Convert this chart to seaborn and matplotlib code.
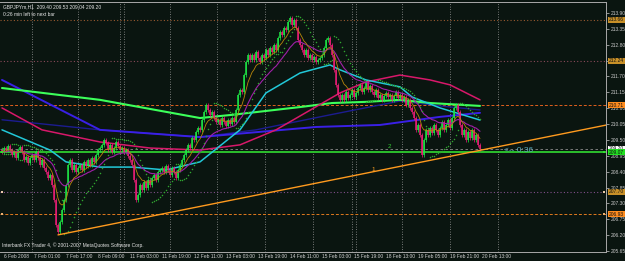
import numpy as np
import pandas as pd
import matplotlib
matplotlib.use("Agg")
import matplotlib.pyplot as plt
import matplotlib.transforms as mtransforms
import seaborn as sns

# ---------------- data ----------------
closes = [
    209.08, 209.22, 209.15, 209.29, 209.15, 208.98, 209.08, 208.87, 209.15, 209.26,
    209.08, 208.81, 208.91, 208.70, 208.87, 208.98, 208.81, 209.08, 208.87, 208.63,
    208.81, 208.53, 208.39, 208.18, 208.29, 207.94, 207.42, 206.55, 206.31, 206.66,
    207.07, 207.42, 207.94, 208.63, 208.81, 208.46, 208.63, 208.39, 208.53, 208.63,
    208.46, 208.74, 208.60, 208.81, 208.63, 208.87, 208.74, 208.98, 209.15, 209.22,
    209.33, 209.50, 209.39, 209.15, 209.33, 209.08, 209.22, 209.43, 209.29, 209.15,
    209.22, 209.08, 209.15, 208.94, 208.81, 208.63, 208.11, 207.42, 207.59, 207.94,
    207.77, 208.04, 207.83, 208.11, 207.94, 208.18, 208.29, 208.11, 208.39, 208.46,
    208.53, 208.39, 208.60, 208.46, 208.29, 208.53, 208.39, 208.18, 208.46, 208.63,
    208.81, 208.98, 209.15, 209.33, 209.22, 209.57, 209.50, 209.78, 209.91, 209.85,
    210.19, 210.47, 210.71, 210.54, 210.37, 210.47, 210.26, 210.12, 210.19, 210.02,
    210.26, 210.12, 209.98, 210.19, 210.05, 210.26, 210.12, 210.54, 211.06, 211.23,
    211.16, 211.75, 212.20, 212.44, 212.27, 212.44, 212.27, 212.55, 212.34, 212.20,
    212.44, 212.34, 212.62, 212.44, 212.69, 212.55, 212.79, 212.62, 213.03, 213.24,
    213.14, 213.38, 213.31, 213.59, 213.73, 213.48, 213.66, 213.38, 212.96, 212.79,
    212.62, 212.44, 212.62, 212.34, 212.44, 212.27, 212.37, 212.20, 212.27, 212.34,
    212.44, 212.69, 212.96, 213.03, 212.79, 212.44, 211.93, 211.41, 211.06, 210.89,
    211.06, 210.89, 211.16, 210.95, 211.06, 211.23, 210.99, 211.13, 211.30, 211.41,
    211.16, 211.30, 211.51, 211.23, 211.37, 211.16, 211.06, 211.23, 210.95, 211.06,
    210.89, 211.02, 211.13, 210.99, 211.06, 210.89, 211.02, 211.16, 210.95, 211.06,
    210.89, 210.99, 210.71, 210.89, 210.61, 210.47, 210.26, 209.85, 210.02, 209.67,
    208.98, 209.50, 209.85, 209.67, 209.91, 209.74, 210.02, 209.85, 209.67, 209.91,
    210.12, 209.85, 210.02, 210.19, 209.91, 210.26, 210.61, 210.71, 210.47, 210.02,
    209.67, 209.85, 209.50, 209.78, 209.57, 209.85, 209.50, 209.67, 209.33, 209.20,
]
first_open = 209.15
wick_pad = 0.07

# slow moving averages (bar index, price)
ma_cyan_bars = [0, 24, 32, 49, 65, 82, 99, 119, 132, 149, 164, 169, 182, 199, 205, 219, 239]
ma_cyan_vals = [209.85, 209.15, 208.74, 208.56, 208.56, 208.46, 208.74, 209.85, 211.13, 211.82,
                212.10, 211.93, 211.58, 211.34, 210.99, 210.61, 210.19]
ma_crimson_bars = [0, 20, 49, 74, 99, 119, 137, 169, 182, 199, 214, 224, 239]
ma_crimson_vals = [210.61, 209.85, 209.43, 209.22, 209.15, 209.33, 209.85, 211.13, 211.51, 211.75,
                   211.58, 211.41, 210.89]
ma_lime_bars = [0, 49, 99, 115, 149, 165, 182, 199, 214, 239]
ma_lime_vals = [211.30, 210.89, 210.26, 210.37, 210.64, 210.78, 210.82, 210.89, 210.78, 210.68]
ma_blue_bars = [0, 49, 99, 157, 189, 219, 239]
ma_blue_vals = [211.58, 209.85, 209.60, 209.95, 210.02, 210.30, 210.44]
ma_navy_bars = [0, 49, 99, 127, 164, 199, 219, 239]
ma_navy_vals = [210.20, 209.85, 209.60, 209.85, 210.37, 210.85, 210.68, 210.54]

# trend line anchors (bar, price)
trend_bars = [28, 239]
trend_vals = [206.21, 209.14]

# horizontal levels
level_vals = [213.66, 212.24, 210.71, 209.20, 209.07, 207.70, 206.93]
level_labels = ["213.66", "212.24", "210.71", "209.20", "209.07", "207.70", "206.93"]

# axis
price_ticks = [205.65, 206.20, 206.75, 207.30, 207.85, 208.40, 208.95, 209.50,
               210.05, 210.60, 211.15, 211.70, 212.25, 212.80, 213.35, 213.90]
time_label_bars = [0, 15, 31, 47, 63, 79, 95, 111, 127, 143, 159, 175, 191, 207, 223, 239]
time_labels = ["6 Feb 2008", "7 Feb 01:00", "7 Feb 17:00", "8 Feb 09:00", "11 Feb 03:00",
               "11 Feb 19:00", "12 Feb 11:00", "13 Feb 03:00", "13 Feb 19:00", "14 Feb 11:00",
               "15 Feb 03:00", "15 Feb 19:00", "18 Feb 13:00", "19 Feb 05:00", "19 Feb 21:00",
               "20 Feb 13:00"]
separator_bars = [15, 38, 59, 61, 84, 107.5, 131.5, 155.5, 175, 177, 200, 224, 248]

# ---------------- derived ----------------
n = len(closes)
bars = np.arange(n)
closes_a = np.array(closes)
opens_a = np.concatenate([[first_open], closes_a[:-1]])
highs_a = np.maximum(opens_a, closes_a) + wick_pad
lows_a = np.minimum(opens_a, closes_a) - wick_pad
ema_fast = pd.Series(closes_a).ewm(span=8, adjust=False).mean().values
ema_mid = pd.Series(closes_a).ewm(span=21, adjust=False).mean().values


def psar(high, low, step=0.02, mx=0.2):
    out = np.zeros(len(high))
    bull = False
    af = step
    ep = low[0]
    out[0] = high[0]
    for i in range(1, len(high)):
        prev = out[i - 1]
        s = prev + af * (ep - prev)
        if bull:
            s = min(s, low[i - 1], low[max(i - 2, 0)])
            if low[i] < s:
                bull, s, ep, af = False, ep, low[i], step
            elif high[i] > ep:
                ep, af = high[i], min(af + step, mx)
        else:
            s = max(s, high[i - 1], high[max(i - 2, 0)])
            if high[i] > s:
                bull, s, ep, af = True, ep, high[i], step
            elif low[i] < ep:
                ep, af = low[i], min(af + step, mx)
        out[i] = s
    return out


sar = psar(highs_a, lows_a)

# ---------------- figure ----------------
sns.set_style("dark")
plt.rcParams["font.family"] = ["Liberation Sans", "DejaVu Sans"]
FS = 3.5
BG = "#0a1510"
fig = plt.figure(figsize=(6.25, 2.61), dpi=100, facecolor=BG)
ax = fig.add_axes([0, 9 / 261, 606 / 625, 250 / 261], facecolor=BG)
ax.set_xlim(-1, 302)
ax.set_ylim(205.617, 214.281)
ax.grid(False)

# separators
for b in separator_bars:
    ax.axvline(b, color="#9a9a9a", lw=0.6, ls=(0, (1, 2)), zorder=1)

# horizontal levels
lv_styles = [
    ("#9a5a30", (0, (1, 2)), 0.8),
    ("#8a4a5a", (0, (1, 2)), 0.8),
    ("#e0601e", (0, (3, 2)), 0.7),
    ("#8a8a8a", (0, (3, 3)), 0.6),
    ("#2ecc2e", "-", 1.3),
    ("#80508a", (0, (1, 2)), 0.8),
    ("#e07a1e", (0, (3, 2)), 0.7),
]
for v, (c, ls, lw) in zip(level_vals, lv_styles):
    ax.axhline(v, color=c, ls=ls, lw=lw, zorder=2)

# anchor squares at both ends of the drawn levels
for idx, mc in [(4, "#33dd33"), (5, "#e8c8a8"), (6, "#f0b070")]:
    ax.scatter([-0.2, 301.2], [level_vals[idx]] * 2, marker="s", s=3, color=mc, linewidths=0,
               zorder=7, clip_on=False)

# candles
bull = closes_a >= opens_a
col = np.where(bull, "#1ee846", "#ee1e78")
ax.vlines(bars, lows_a, highs_a, colors=col, lw=0.5, zorder=4)
ax.vlines(bars, opens_a, closes_a, colors=col, lw=1.1, zorder=4)

# moving averages
sns.lineplot(x=ma_navy_bars, y=ma_navy_vals, ax=ax, color="#1c1c90", lw=1.0, legend=False, zorder=3)
sns.lineplot(x=ma_blue_bars, y=ma_blue_vals, ax=ax, color="#3a20e6", lw=1.4, legend=False, zorder=3)
sns.lineplot(x=ma_lime_bars, y=ma_lime_vals, ax=ax, color="#3cff5a", lw=1.5, legend=False, zorder=3)
sns.lineplot(x=ma_crimson_bars, y=ma_crimson_vals, ax=ax, color="#d8186a", lw=1.1, legend=False, zorder=3)
sns.lineplot(x=ma_cyan_bars, y=ma_cyan_vals, ax=ax, color="#22c8d8", lw=1.1, legend=False, zorder=3)
sns.lineplot(x=bars, y=ema_mid, ax=ax, color="#a020a8", lw=0.8, legend=False, zorder=5)
sns.lineplot(x=bars, y=ema_fast, ax=ax, color="#b8860b", lw=0.6, legend=False, zorder=5)
sns.scatterplot(x=bars, y=sar, ax=ax, color="#2fa52f", s=1.2, linewidth=0, legend=False, zorder=5)

# trend line (ray to the right edge)
slope = (trend_vals[1] - trend_vals[0]) / (trend_bars[1] - trend_bars[0])
x_end = ax.get_xlim()[1]
ax.plot([trend_bars[0], x_end], [trend_vals[0], trend_vals[0] + slope * (x_end - trend_bars[0])],
        color="#ff9a1e", lw=1.0, zorder=6)

# labels on chart
ax.text(193.5, 209.17, "2", color="#33cc33", fontsize=4.5, ha="center", va="bottom", zorder=7)
ax.text(185.5, 208.46, "1", color="#ffa020", fontsize=4.5, ha="center", va="center", zorder=7)
ax.text(251, 209.15, "<-- 0:36", color="#5aa8b8", fontsize=6, ha="left", va="center", zorder=7)

# right axis
ax.yaxis.tick_right()
ax.set_yticks(price_ticks)
ax.set_yticklabels([f"{p:.2f}" for p in price_ticks])
ax.tick_params(axis="y", colors="#c8c8c8", labelsize=FS, length=2, width=0.5, pad=1.2, direction="out")
ax.set_xticks(time_label_bars)
ax.tick_params(axis="x", colors="#c8c8c8", length=3, width=0.5, labelbottom=False, direction="out")
trans_x = mtransforms.blended_transform_factory(ax.transData, ax.transAxes)
for b, lab in zip(time_label_bars, time_labels):
    ax.text(b + 1, -0.01, lab, transform=trans_x, fontsize=FS, color="#d0d0d0", ha="left", va="top")

ax.spines["left"].set_visible(False)
for s in ["top", "right", "bottom"]:
    ax.spines[s].set_visible(True)
    ax.spines[s].set_color("#a8a8a8")
    ax.spines[s].set_linewidth(0.7)

# value boxes
trans_y = mtransforms.blended_transform_factory(ax.transAxes, ax.transData)
box_colors = ["#c89028", "#c89028", "#ff8c1e", "#ffffff", "#22e022", "#c89028", "#ff8c1e"]
for v, lab, bc in zip(level_vals, level_labels, box_colors):
    ax.text(1.005, v, lab, transform=trans_y, fontsize=FS, color="#101010", ha="left", va="center",
            bbox=dict(facecolor=bc, edgecolor="none", pad=0.4), zorder=8, clip_on=False)

# header / footer text
fig.text(3 / 625, 1 - 7 / 261, "GBPJPYm,H1  209.40 209.53 209.04 209.20", fontsize=FS, color="#e6e6e6",
         ha="left", va="center")
fig.text(3 / 625, 1 - 15 / 261, "0:26 min left to next bar", fontsize=FS, color="#e6e6e6",
         ha="left", va="center")
ax.text(2 / 606, 0.016, "Interbank FX Trader 4, \u00a9 2001-2007 MetaQuotes Software Corp.",
        transform=ax.transAxes, fontsize=FS, color="#e6e6e6", ha="left", va="bottom", zorder=9)

fig.savefig("out.png", dpi=100, facecolor=BG)
